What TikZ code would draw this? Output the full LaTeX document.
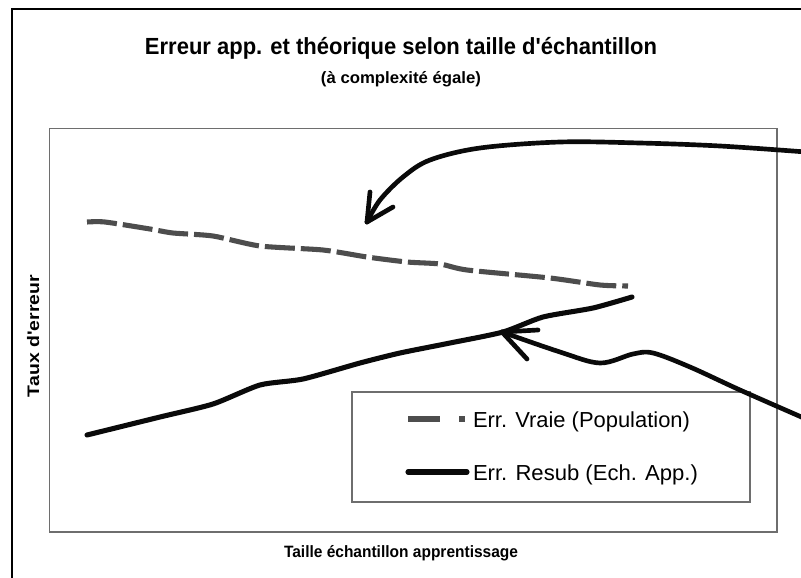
\documentclass[tikz,border=0pt]{standalone}
\usepackage{fontspec}
\setmainfont{Liberation Sans}[Ligatures=TeXOff]
\usepackage{graphicx}
\definecolor{frameGray}{HTML}{6E6E6E}
\definecolor{curveGray}{HTML}{4D4D4D}
\definecolor{ink}{HTML}{0A0A0A}
\begin{document}
\begin{tikzpicture}[x=0.75pt,y=-0.75pt,
  outerframe/.style={draw=black, line width=1.1pt},
  plotframe/.style={draw=frameGray, line width=0.9pt},
  legendframe/.style={draw=frameGray, line width=0.8pt},
  truecurve/.style={draw=curveGray, line width=3.8pt, dash pattern=on 22.5pt off 4.5pt},
  resubcurve/.style={draw=ink, line width=3.8pt, line cap=round, line join=round},
  pointer/.style={draw=ink, line width=3.5pt, line cap=round, line join=round},
  txt/.style={inner sep=0pt, outer sep=0pt},
]
\useasboundingbox (0,0) rectangle (801,578);
\fill[white] (0,0) rectangle (801,578);

% outer chart frame (cut by page edge)
\coordinate (obl) at (12,590);
\coordinate (otl) at (12,9);
\coordinate (otr) at (815,9);
\draw[outerframe] (obl) -- (otl) -- (otr);

% plot area
\coordinate (ptl) at (49.5,128.5);
\coordinate (pbr) at (777,532);
\draw[plotframe] (ptl) rectangle (pbr);

% titles
\node[txt, anchor=base] (title) at (401,55)
  {\fontsize{17.5}{20}\selectfont\bfseries\resizebox{384pt}{\height}{Erreur app. et théorique selon taille d'échantillon}};
\node[txt, anchor=base] (subtitle) at (401,84)
  {\fontsize{12.3}{14}\selectfont\bfseries\resizebox{120pt}{\height}{(à complexité égale)}};
\node[txt, anchor=base] (xlabel) at (401,557)
  {\fontsize{12.3}{14}\selectfont\bfseries\resizebox{175.5pt}{\height}{Taille échantillon apprentissage}};
\node[txt, anchor=base, rotate=90] (ylabel) at (39,336)
  {\fontsize{12.5}{14}\selectfont\bfseries\resizebox{91.5pt}{\height}{Taux d'erreur}};

% data curves
\draw[truecurve] plot[smooth, tension=0.4] coordinates {
  (87,222) (105,222) (150,229) (173,233) (213,236) (260,246) (323,250)
  (367,257) (407,262) (440,264) (467,270) (550,278) (600,285) (628,286)};
\draw[resubcurve] plot[smooth, tension=0.4] coordinates {
  (87,435) (160,417) (213,404) (260,385) (303,379) (360,363) (400,353)
  (450,343) (503,332) (543,317) (593,308) (632,297)};

% legend
\coordinate (ltl) at (352,392);
\coordinate (lbr) at (750,502);
\draw[legendframe, fill=white] (ltl) rectangle (lbr);
\coordinate (ld1a) at (408,419);
\coordinate (ld1b) at (440,419);
\coordinate (ld1c) at (459,419);
\coordinate (ld1d) at (465,419);
\draw[draw=curveGray, line width=3.8pt] (ld1a) -- (ld1b);
\draw[draw=curveGray, line width=3.8pt] (ld1c) -- (ld1d);
\coordinate (ld2a) at (408,472);
\coordinate (ld2b) at (467,472);
\draw[resubcurve] (ld2a) -- (ld2b);
\node[txt, anchor=base west] (leg1) at (473,427)
  {\fontsize{16.3}{18}\selectfont\resizebox{162.75pt}{\height}{Err. Vraie (Population)}};
\node[txt, anchor=base west] (leg2) at (473,480)
  {\fontsize{16.3}{18}\selectfont\resizebox{168.75pt}{\height}{Err. Resub (Ech. App.)}};

% pointer arrow 1 (towards the true-error curve)
\coordinate (a1tip) at (367,222);
\draw[pointer] plot[smooth, tension=0.55] coordinates {
  (806,152) (720,146) (640,143) (560,142) (480,148) (430,160) (403,177) (380,200) (a1tip)};
\draw[pointer] (a1tip) -- ++(3,-30);
\draw[pointer] (a1tip) -- ++(26,-15);

% pointer arrow 2 (towards the resubstitution curve)
\coordinate (a2tip) at (502,332);
\draw[pointer] plot[smooth, tension=0.55] coordinates {
  (806,419) (740,390) (690,367) (653,353) (633,354) (600,363) (560,352) (a2tip)};
\draw[pointer] (a2tip) -- ++(36,-2);
\draw[pointer] (a2tip) -- ++(25,27);
\end{tikzpicture}
\end{document}
